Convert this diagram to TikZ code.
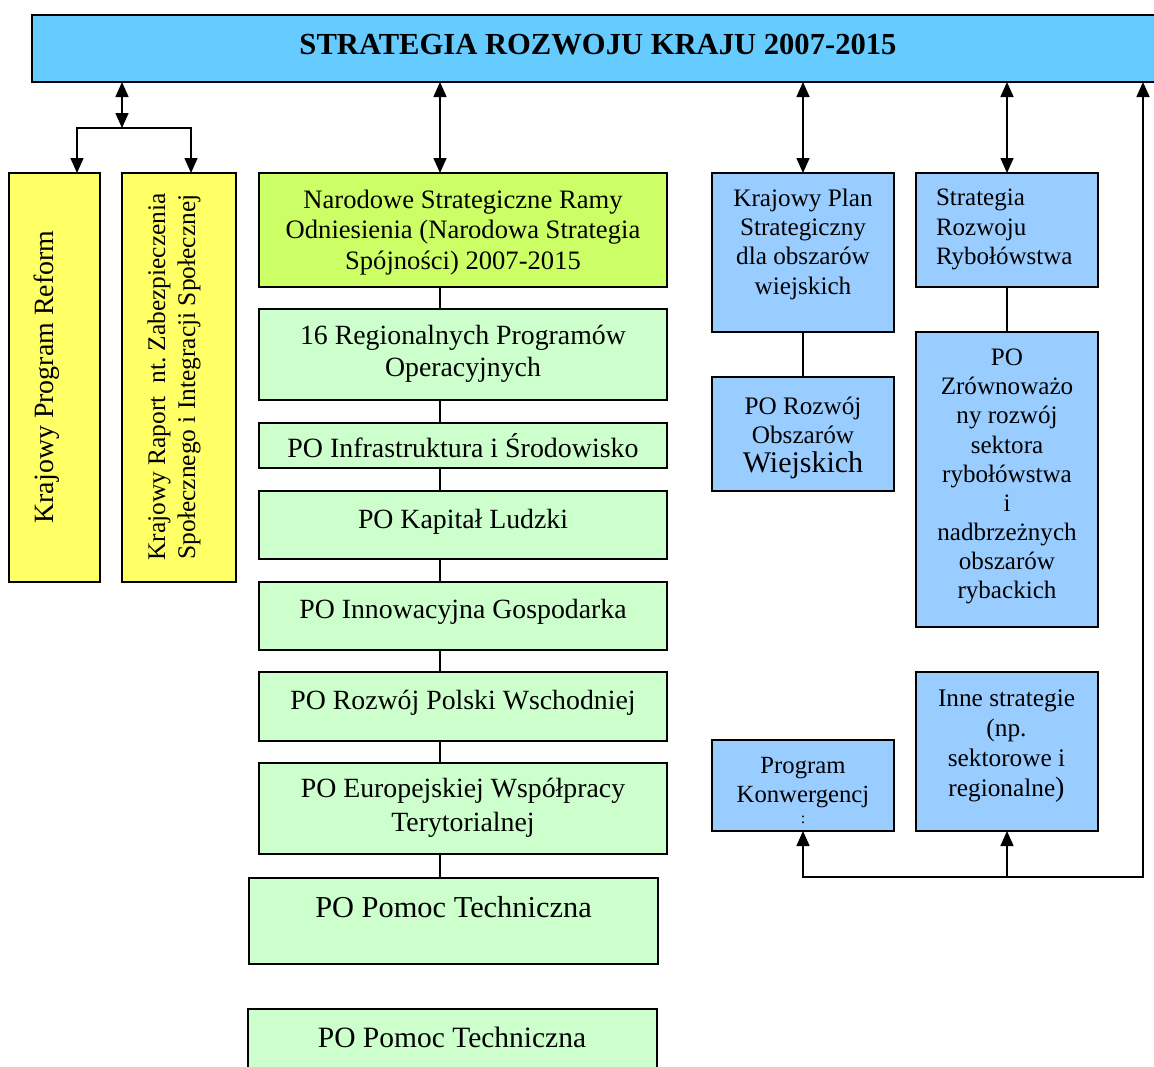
\documentclass[tikz,border=0pt]{standalone}
\usepackage{fontspec}
\setmainfont{Liberation Serif}
\usetikzlibrary{arrows.meta,calc}
\frenchspacing
\definecolor{cTop}{HTML}{66CCFF}
\definecolor{cYel}{HTML}{FFFF66}
\definecolor{cLime}{HTML}{CCFF66}
\definecolor{cGrn}{HTML}{CCFFCC}
\definecolor{cBlu}{HTML}{99CCFF}
\newcommand{\myfs}[2]{\fontsize{#1}{#2}\selectfont}
\begin{document}
\begin{tikzpicture}[x=1pt,y=-1pt,
  box/.style={draw=black, line width=1.6pt, anchor=north west, inner sep=0pt, outer sep=0pt},
  txt/.style={inner sep=0pt, outer sep=0pt, align=center},
  conn/.style={line width=1.6pt, draw=black},
  arr/.style={-{Triangle[length=15pt,width=13pt]}},
  darr/.style={{Triangle[length=15pt,width=13pt]}-{Triangle[length=15pt,width=13pt]}},
]
\useasboundingbox (0,0) rectangle (1154,1066);

% boxes
\node[box, fill=cTop, minimum width=1140pt, minimum height=67pt] (top) at (32,15) {};
\node[box, fill=cYel, minimum width=91pt, minimum height=409pt] (kpr) at (9,173) {};
\node[box, fill=cYel, minimum width=114pt, minimum height=409pt] (kraport) at (122,173) {};
\node[box, fill=cLime, minimum width=408pt, minimum height=114pt] (nsro) at (259,173) {};
\node[box, fill=cGrn, minimum width=408pt, minimum height=91pt] (rpo) at (259,309) {};
\node[box, fill=cGrn, minimum width=408pt, minimum height=45pt] (pois) at (259,423) {};
\node[box, fill=cGrn, minimum width=408pt, minimum height=68pt] (pokl) at (259,491) {};
\node[box, fill=cGrn, minimum width=408pt, minimum height=68pt] (poig) at (259,582) {};
\node[box, fill=cGrn, minimum width=408pt, minimum height=69pt] (porpw) at (259,672) {};
\node[box, fill=cGrn, minimum width=408pt, minimum height=91pt] (poewt) at (259,763) {};
\node[box, fill=cGrn, minimum width=409pt, minimum height=86pt] (popt) at (249,878) {};
\node[box, fill=cGrn, minimum width=409pt, minimum height=80pt] (popt2) at (248,1009) {};
\node[box, fill=cBlu, minimum width=182pt, minimum height=159pt] (kps) at (712,173) {};
\node[box, fill=cBlu, minimum width=182pt, minimum height=114pt] (prow) at (712,377) {};
\node[box, fill=cBlu, minimum width=182pt, minimum height=114pt] (srr) at (916,173) {};
\node[box, fill=cBlu, minimum width=182pt, minimum height=295pt] (pozr) at (916,332) {};
\node[box, fill=cBlu, minimum width=182pt, minimum height=159pt] (inne) at (916,672) {};
\node[box, fill=cBlu, minimum width=182pt, minimum height=91pt] (konw) at (712,740) {};

% texts
\node[txt, anchor=base, font=\bfseries\myfs{30.6}{34}] (ttop) at (598,54.5) {STRATEGIA ROZWOJU KRAJU 2007-2015};
\node[txt, anchor=base, rotate=90, font=\myfs{27.9}{32}] (tkpr) at (53.3,377) {Krajowy Program Reform};
\node[txt, rotate=90, font=\myfs{25.4}{30}] (tkraport) at (174,377) {Krajowy Raport\ \ nt. Zabezpieczenia\\Społecznego i Integracji Społecznej};
\node[txt, font=\myfs{26.6}{30.5}] (tnsro) at (463,232.3) {Narodowe Strategiczne Ramy\\Odniesienia (Narodowa Strategia\\Spójności) 2007-2015};
\node[txt, font=\myfs{27.8}{32.5}] (trpo) at (463,354) {16 Regionalnych Programów\\Operacyjnych};
\node[txt, anchor=base, font=\myfs{27.9}{32}] (tpois) at (463,457) {PO Infrastruktura i Środowisko};
\node[txt, anchor=base, font=\myfs{27.8}{32}] (tpokl) at (463,528) {PO Kapitał Ludzki};
\node[txt, anchor=base, font=\myfs{27.8}{32}] (tpoig) at (463,618) {PO Innowacyjna Gospodarka};
\node[txt, anchor=base, font=\myfs{27.8}{32}] (tporpw) at (463,709) {PO Rozwój Polski Wschodniej};
\node[txt, font=\myfs{27.8}{34.5}] (tpoewt) at (463,808) {PO Europejskiej Współpracy\\Terytorialnej};
\node[txt, anchor=base, font=\myfs{30.4}{34}] (tpopt) at (453.5,917) {PO Pomoc Techniczna};
\node[txt, anchor=base, font=\myfs{29.5}{34}] (tpopt2) at (452,1047) {PO Pomoc Techniczna};
\node[txt, font=\myfs{25.2}{29.3}] (tkps) at (803,244) {Krajowy Plan\\Strategiczny\\dla obszarów\\wiejskich};
\node[txt, font=\myfs{25.2}{29.3}] (tprow) at (803,437.8) {PO Rozwój\\Obszarów\\{\myfs{30}{33}Wiejskich}};
\node[txt, anchor=west, align=left, font=\myfs{25}{29.3}] (tsrr) at (936,229.7) {Strategia\\Rozwoju\\Rybołówstwa};
\node[txt, font=\myfs{25.1}{29.1}] (tpozr) at (1007,476.5) {PO\\Zrównoważo\\ny rozwój\\sektora\\rybołówstwa\\i\\nadbrzeżnych\\obszarów\\rybackich};
\node[txt, font=\myfs{25.3}{30}] (tinne) at (1006.5,746.4) {Inne strategie\\(np.\\sektorowe i\\regionalne{\myfs{28}{30})}};
\node[txt, font=\myfs{24.7}{29}] (tkonw) at (803,783) {Program\\Konwergencj};
\node[txt, anchor=base, font=\myfs{16}{18}] (tkonwc) at (803,823) {:};

% connectors
\coordinate (j1) at (122,128);
\coordinate (a1) at (77,128);
\coordinate (a2) at (191,128);
\coordinate (cx) at (440,128);
\coordinate (br) at (1143,877);

\draw[conn, darr] (top.south -| j1) -- (j1);
\draw[conn, arr] (j1) -- (a1) -- (a1 |- kpr.north);
\draw[conn, arr] (j1) -- (a2) -- (a2 |- kraport.north);

\draw[conn, darr] (top.south -| cx) -- (nsro.north -| cx);
\draw[conn] (nsro.south -| cx) -- (rpo.north -| cx);
\draw[conn] (rpo.south -| cx) -- (pois.north -| cx);
\draw[conn] (pois.south -| cx) -- (pokl.north -| cx);
\draw[conn] (pokl.south -| cx) -- (poig.north -| cx);
\draw[conn] (poig.south -| cx) -- (porpw.north -| cx);
\draw[conn] (porpw.south -| cx) -- (poewt.north -| cx);
\draw[conn] (poewt.south -| cx) -- (popt.north -| cx);

\draw[conn, darr] (top.south -| kps.north) -- (kps.north);
\draw[conn] (kps.south) -- (prow.north);
\draw[conn, darr] (top.south -| srr.north) -- (srr.north);
\draw[conn] (srr.south) -- (pozr.north);

\draw[conn, darr] (konw.south) |- (br) -- (top.south -| br);
\draw[conn, arr] (inne.south |- br) -- (inne.south);
\end{tikzpicture}
\end{document}
